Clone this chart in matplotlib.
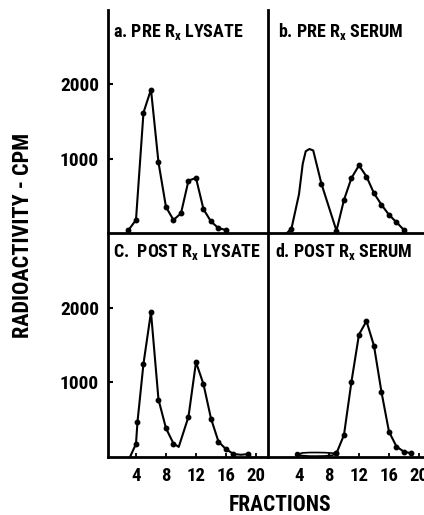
import matplotlib
matplotlib.use("Agg")
import matplotlib.pyplot as plt

plt.rcParams["font.family"] = ["Roboto Condensed", "Saira SemiCondensed", "DejaVu Sans"]
plt.rcParams["font.weight"] = "bold"
plt.rcParams["mathtext.default"] = "regular"

# ---- data (fraction number, counts per minute) ----
a_frac = [3, 4, 5, 6, 7, 8, 9, 10, 11, 12, 13, 14, 15, 16]
a_cpm = [40, 175, 1620, 1930, 950, 350, 175, 265, 705, 740, 320, 155, 65, 40]
a_mark = list(range(len(a_frac)))

b_frac = [2.4, 3, 4, 4.5, 4.9, 5.4, 5.9, 7, 8, 9, 10, 11, 12, 13, 14, 15, 16, 17, 18]
b_cpm = [0, 60, 520, 930, 1100, 1130, 1110, 660, 345, 30, 445, 740, 910, 760, 535, 380, 245, 145, 40]
b_mark = [1, 7, 9, 10, 11, 12, 13, 14, 15, 16, 17, 18]

c_frac = [3.2, 4, 4.2, 5, 6, 7, 8, 9, 9.7, 11, 12, 13, 14, 15, 16, 17, 18, 19]
c_cpm = [0, 175, 470, 1250, 1940, 770, 385, 180, 135, 540, 1270, 975, 515, 205, 105, 40, 30, 40]
c_mark = [1, 2, 3, 4, 5, 6, 7, 9, 10, 11, 12, 13, 14, 15, 17]

d_frac = [9, 10, 11, 12, 13, 14, 15, 16, 17, 18, 19]
d_cpm = [50, 295, 1010, 1640, 1820, 1490, 870, 340, 140, 70, 50]
d_mark = list(range(len(d_frac)))
# thin closed loop near the baseline, fractions 4-9
d_loop_frac = [3.7, 4.5, 5.5, 6.5, 7.5, 8.5, 9.0]
d_loop_top = [35, 55, 60, 60, 58, 52, 50]
d_loop_bot = [35, 18, 12, 12, 14, 25, 50]

titles = ["a. PRE R$_x$ LYSATE", "b. PRE R$_x$ SERUM",
          "C.  POST R$_x$ LYSATE", "d. POST R$_x$ SERUM"]
y_ticks = [1000, 2000]
y_ticklabels = ["1000", "2000"]
x_ticks = [4, 8, 12, 16, 20]
x_ticklabels = ["4", "8", "12", "16", "20"]

W, H = 424, 515
fig = plt.figure(figsize=(W / 100, H / 100), dpi=100, facecolor="white")


def px_axes(x0, y0, x1, y1):
    return fig.add_axes([x0 / W, 1 - y1 / H, (x1 - x0) / W, (y1 - y0) / H])


ax_a = px_axes(108, 10, 268, 233)
ax_b = px_axes(268, 10, 424, 233)
ax_c = px_axes(108, 233, 268, 457)
ax_d = px_axes(268, 233, 424, 457)
axes = [ax_a, ax_b, ax_c, ax_d]

LW = 1.5
for ax in axes:
    ax.set_ylim(0, 3000)
    ax.spines["top"].set_visible(False)
    ax.spines["right"].set_visible(False)
    ax.spines["left"].set_linewidth(2.0)
    ax.spines["bottom"].set_linewidth(2.0)
    ax.set_facecolor("none")

for ax in (ax_a, ax_c):
    ax.set_xlim(0.27, 21.6)
for ax in (ax_b, ax_d):
    ax.set_xlim(-0.13, 20.67)

for ax in (ax_a, ax_c):
    ax.set_yticks(y_ticks)
    ax.set_yticklabels(y_ticklabels)
    ax.tick_params(axis="y", direction="in", length=3.5, width=1.5, pad=6.5, labelsize=14)
for ax in (ax_b, ax_d):
    ax.set_yticks([])

for ax in (ax_a, ax_b):
    ax.set_xticks([])
for ax in (ax_c, ax_d):
    ax.set_xticks(x_ticks)
    ax.set_xticklabels(x_ticklabels)
    ax.tick_params(axis="x", direction="in", length=3, width=1.3, pad=7.5, labelsize=13.5)

style = dict(color="black", lw=LW, marker="o", ms=3.2, solid_joinstyle="round")
ax_a.plot(a_frac, a_cpm, markevery=a_mark, **style)
ax_b.plot(b_frac, b_cpm, markevery=b_mark, **style)
ax_c.plot(c_frac, c_cpm, markevery=c_mark, **style)
ax_d.plot(d_frac, d_cpm, markevery=d_mark, **style)
ax_d.plot(d_loop_frac, d_loop_top, color="black", lw=1.2)
ax_d.plot(d_loop_frac, d_loop_bot, color="black", lw=1.2, marker="o", ms=3.0, markevery=[0, 6])

title_pos = [(0.031, 0.879), (0.064, 0.879), (0.031, 0.893), (0.045, 0.893)]
for ax, t, (tx, ty) in zip(axes, titles, title_pos):
    ax.text(tx, ty, t, transform=ax.transAxes, ha="left", va="baseline",
            fontsize=13, fontweight="bold")

fig.text(23 / W, 1 - 235.5 / H, "RADIOACTIVITY - CPM", rotation=90,
         ha="center", va="center", fontsize=16, fontweight="bold")
fig.text(280 / W, 0.008, "FRACTIONS", ha="center", va="baseline",
         fontsize=15.5, fontweight="bold")

fig.savefig("out.png", dpi=100, facecolor="white")
